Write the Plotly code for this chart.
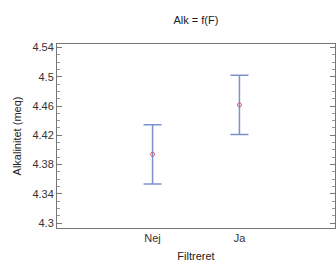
import plotly.graph_objects as go

categories = ["Nej", "Ja"]
means = [4.394, 4.4615]
half_ci = [0.0405, 0.0405]

x_pos = list(range(len(categories)))

fig = go.Figure()
fig.add_trace(go.Scatter(
    x=x_pos, y=means, mode="markers",
    marker=dict(symbol="circle-open", size=4, color="#d06070", line=dict(width=1)),
    error_y=dict(type="data", array=half_ci, visible=True, color="#7b93cc", thickness=1.5, width=9),
    showlegend=False,
))

axis_font = dict(family="Liberation Sans, Arial", size=11, color="#333333")
fig.update_layout(
    width=336, height=262,
    margin=dict(l=57, r=1, t=44, b=34),
    paper_bgcolor="white", plot_bgcolor="white",
    font=dict(family="Liberation Sans, Arial", size=11, color="#222222"),
    title=dict(text="Alk = f(F)", x=0.583, xanchor="center", y=0.925, yanchor="middle",
               font=dict(size=11, color="#222222")),
    xaxis=dict(
        range=[-1.1, 2.1], tickmode="array", tickvals=x_pos, ticktext=categories,
        showgrid=False, zeroline=False, ticks="", showline=True, linecolor="#777777",
        linewidth=1, mirror=True, tickfont=axis_font,
        title=dict(text="Filtreret", font=dict(size=11, color="#222222"), standoff=9),
    ),
    yaxis=dict(
        range=[4.2932, 4.5448], tick0=4.3, dtick=0.04, showgrid=False, zeroline=False,
        ticks="inside", ticklen=5, tickcolor="#777777", showline=True, linecolor="#777777",
        linewidth=1, mirror="ticks", tickfont=axis_font,
        minor=dict(dtick=0.01, ticks="inside", ticklen=3, tickcolor="#999999"),
        title=dict(text="Alkalinitet (meq)", font=dict(size=11, color="#222222"), standoff=8),
    ),
)

fig.write_html("out.html", config={"displayModeBar": False},
               post_script="document.body.style.margin='0';document.body.style.overflow='hidden';")
